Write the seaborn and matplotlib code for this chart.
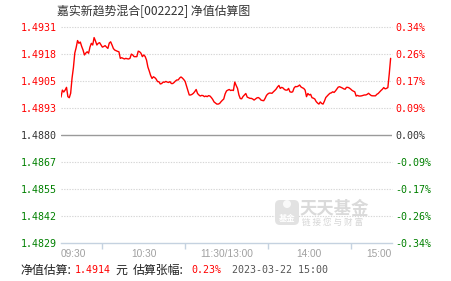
import numpy as np
import pandas as pd
import matplotlib
matplotlib.use("Agg")
import matplotlib.pyplot as plt
import matplotlib.transforms as mtransforms
from matplotlib.patches import FancyBboxPatch, Circle
import seaborn as sns

# ---------------- data ----------------
title = "嘉实新趋势混合[002222] 净值估算图"
base_nav = 1.4880
nav_tick_labels = ["1.4931", "1.4918", "1.4905", "1.4893", "1.4880",
                   "1.4867", "1.4855", "1.4842", "1.4829"]
pct_tick_labels = ["0.34%", "0.26%", "0.17%", "0.09%", "0.00%",
                   "-0.09%", "-0.17%", "-0.26%", "-0.34%"]
time_labels = ["09:30", "10:30", "11:30/13:00", "14:00", "15:00"]
time_label_minutes = [0, 60, 120, 180, 240]
time_minor_minutes = [0, 30, 90, 150, 210, 240]

nav = [
    1.48979, 1.49012, 1.49003, 1.49012, 1.49025, 1.48981, 1.48976, 1.48997, 1.49068, 1.49118,
    1.49187, 1.49213, 1.49246, 1.49233, 1.49239, 1.49218, 1.49201, 1.49178, 1.49187, 1.49193,
    1.49186, 1.49215, 1.49233, 1.49225, 1.49260, 1.49244, 1.49225, 1.49233, 1.49236, 1.49225,
    1.49215, 1.49218, 1.49222, 1.49215, 1.49209, 1.49234, 1.49240, 1.49225, 1.49208, 1.49201,
    1.49198, 1.49195, 1.49193, 1.49162, 1.49165, 1.49162, 1.49159, 1.49162, 1.49160, 1.49159,
    1.49162, 1.49182, 1.49178, 1.49170, 1.49170, 1.49170, 1.49196, 1.49193, 1.49186, 1.49170,
    1.49178, 1.49171, 1.49154, 1.49121, 1.49102, 1.49081, 1.49067, 1.49075, 1.49071, 1.49064,
    1.49052, 1.49052, 1.49041, 1.49043, 1.49050, 1.49049, 1.49053, 1.49050, 1.49048, 1.49052,
    1.49043, 1.49043, 1.49048, 1.49055, 1.49060, 1.49060, 1.49069, 1.49074, 1.49069, 1.49062,
    1.49053, 1.49031, 1.49010, 1.48989, 1.48989, 1.48992, 1.48997, 1.49005, 1.49015, 1.48996,
    1.48989, 1.48984, 1.48987, 1.48986, 1.48981, 1.48984, 1.48981, 1.48986, 1.48984, 1.48977,
    1.48968, 1.48956, 1.48951, 1.48946, 1.48946, 1.48949, 1.48957, 1.48964, 1.48970, 1.48994,
    1.49008, 1.49012, 1.49015, 1.49010, 1.49012, 1.49010, 1.49050, 1.49034, 1.49020, 1.48989,
    1.48972, 1.48971, 1.48982, 1.48989, 1.48996, 1.48979, 1.48976, 1.48973, 1.48973, 1.48970,
    1.48965, 1.48970, 1.48975, 1.48977, 1.48973, 1.48965, 1.48963, 1.48962, 1.48973, 1.48987,
    1.48994, 1.48998, 1.48998, 1.48997, 1.49004, 1.49010, 1.49017, 1.49027, 1.49034, 1.49020,
    1.49025, 1.49022, 1.49015, 1.49012, 1.49012, 1.49020, 1.49004, 1.49002, 1.49004, 1.49022,
    1.49029, 1.49028, 1.49031, 1.49036, 1.49027, 1.49023, 1.49020, 1.49012, 1.48981, 1.48996,
    1.48989, 1.48992, 1.48976, 1.48974, 1.48970, 1.48958, 1.48951, 1.48946, 1.48956, 1.48949,
    1.48946, 1.48960, 1.48977, 1.48984, 1.48991, 1.48997, 1.48999, 1.49004, 1.49001, 1.49008,
    1.49017, 1.49026, 1.49028, 1.49025, 1.49022, 1.49018, 1.49016, 1.49025, 1.49025, 1.49022,
    1.49017, 1.49011, 1.49007, 1.49004, 1.48984, 1.48987, 1.48984, 1.48984, 1.48985, 1.48987,
    1.48989, 1.48989, 1.48992, 1.48997, 1.48991, 1.48986, 1.48985, 1.48985, 1.48985, 1.48992,
    1.48996, 1.49003, 1.49010, 1.49016, 1.49024, 1.49018, 1.49020, 1.49024, 1.49088, 1.49162,
]
est_label = "净值估算:"
est_nav = "1.4914"
est_unit = "元"
chg_label = "估算张幅:"
est_change = "0.23%"
timestamp = "2023-03-22 15:00"

df = pd.DataFrame({"minute": np.arange(len(nav)), "nav": nav})

# ---------------- style ----------------
sns.set_theme(style="white")
CJK = ["Noto Sans CJK SC", "DejaVu Sans"]
MONO = ["DejaVu Sans Mono"]
plt.rcParams["font.family"] = CJK

W, H = 451, 281
fig = plt.figure(figsize=(W / 100, H / 100), dpi=100)
fig.patch.set_facecolor("white")
ax = fig.add_axes([61 / W, 38 / H, 331 / W, 216 / H])
ax.set_facecolor("white")

ylo = float(nav_tick_labels[-1])
yhi = float(nav_tick_labels[0])
tick_pos = np.linspace(yhi, ylo, len(nav_tick_labels))
ax.set_xlim(0, 240)
ax.set_ylim(ylo, yhi)

# grid lines
for i, p in enumerate(tick_pos):
    if i == 4:
        ax.axhline(p, color="#9a9a9a", lw=1.0, zorder=1)
    elif i < len(tick_pos) - 1:
        ax.axhline(p, color="#d6d6d6", lw=0.8, ls=(0, (1.2, 1.2)),
                   zorder=1, clip_on=False)

sns.lineplot(data=df, x="minute", y="nav", ax=ax, color="#ff0000",
             linewidth=1.0, zorder=3, legend=False)
ax.set_xlabel("")
ax.set_ylabel("")

red, green, dark = "#ff0000", "#008000", "#333333"
label_colors = [red] * 4 + [dark] + [green] * 4

ax.set_yticks(tick_pos, nav_tick_labels)
ax.tick_params(axis="y", length=0, pad=3.0)
for t, c in zip(ax.get_yticklabels(), label_colors):
    t.set_color(c)
    t.set_family(MONO)
    t.set_fontsize(7.2)

ax2 = ax.twinx()
ax2.set_ylim(ylo, yhi)
ax2.set_yticks(tick_pos, pct_tick_labels)
ax2.tick_params(axis="y", length=0, pad=2.7)
for t, c in zip(ax2.get_yticklabels(), label_colors):
    t.set_color(c)
    t.set_family(MONO)
    t.set_fontsize(7.2)
ax2.grid(False)

ax.set_xticks(time_label_minutes, time_labels)
ax.set_xticks(time_minor_minutes, minor=True)
ax.tick_params(axis="x", which="major", length=0, pad=4.5, labelsize=7.3,
               labelcolor="#a0a0a0")
ax.tick_params(axis="x", which="minor", length=4, width=1, color="#c5d2e0",
               direction="out", bottom=True)
xt = ax.get_xticklabels()
for t in xt:
    t.set_family(["Liberation Sans", "DejaVu Sans"])
xt[0].set_ha("left")
xt[-1].set_ha("right")
ax.grid(False)

for a in (ax, ax2):
    for s in ("top", "left", "right"):
        a.spines[s].set_visible(False)
    a.spines["bottom"].set_visible(False)
ax.spines["bottom"].set_visible(True)
ax.spines["bottom"].set_color("#c5d2e0")
ax.spines["bottom"].set_linewidth(1.0)
ax.spines["bottom"].set_zorder(2)

# ---------------- texts ----------------
def fx(px):
    return px / W

def fy(py):
    return 1 - py / H

fig.text(fx(57), fy(11), title, ha="left", va="center", fontsize=8.6,
         color="#333333", family=CJK)

fy_foot = fy(270)
fig.text(fx(20), fy_foot, est_label, ha="left", va="center", fontsize=8.6,
         color="#222222", family=CJK)
fig.text(fx(75), fy_foot, est_nav, ha="left", va="center", fontsize=7.2,
         color=red, family=MONO)
fig.text(fx(115), fy_foot, est_unit, ha="left", va="center", fontsize=8.6,
         color="#222222", family=CJK)
fig.text(fx(133), fy_foot, chg_label, ha="left", va="center", fontsize=8.6,
         color="#222222", family=CJK)
fig.text(fx(191.5), fy_foot, est_change, ha="left", va="center", fontsize=7.2,
         color=red, family=MONO)
fig.text(fx(231.5), fy_foot, timestamp, ha="left", va="center", fontsize=7.2,
         color="#555555", family=MONO)

# watermark
px_tr = mtransforms.IdentityTransform()
logo = FancyBboxPatch((275, H - 225), 24, 25,
                      boxstyle="round,pad=0,rounding_size=5",
                      transform=px_tr, fc="#e2e2e2", ec="none", zorder=0)
fig.patches.append(logo)
fig.patches.append(Circle((287, H - 204), 4, transform=px_tr, fc="white",
                          ec="none", alpha=0.8))
fig.text(fx(287), fy(218), "基金", ha="center", va="center", fontsize=6,
         color="white", weight="bold", family=CJK)
fig.text(fx(300), fy(209), "天天基金", ha="left", va="center", fontsize=12.5,
         color="#dadada", weight="bold", family=CJK)
fig.text(fx(302), fy(222), "链 接 您 与 财 富", ha="left", va="center",
         fontsize=6.2, color="#d6d6d6", family=CJK)

fig.savefig("out.png", dpi=100, facecolor="white")
